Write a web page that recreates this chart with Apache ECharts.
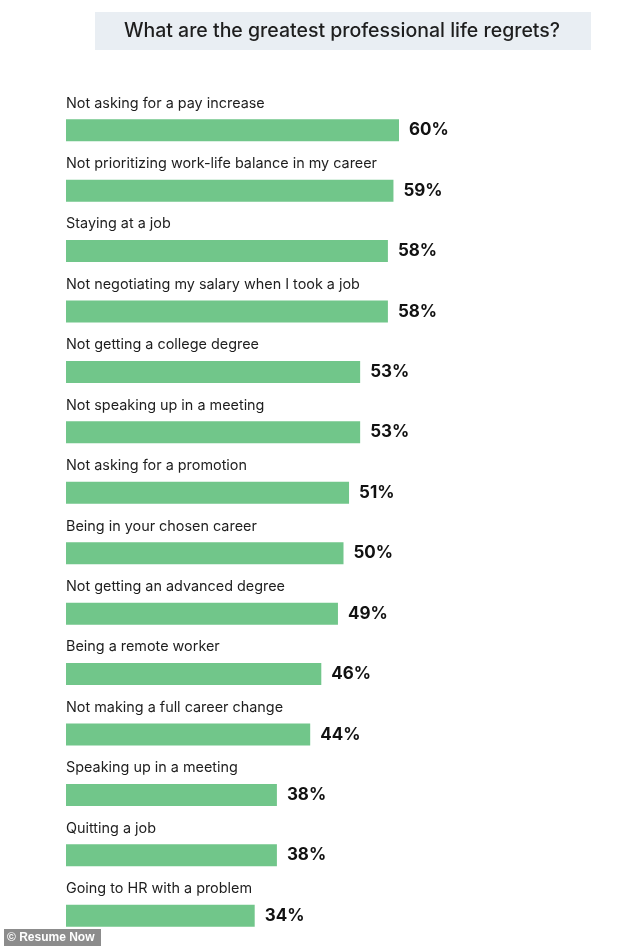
<!DOCTYPE html>
<html><head><meta charset="utf-8">
<script src="https://cdn.jsdelivr.net/npm/echarts@6/dist/echarts.min.js"></script>
<style>html,body{margin:0;padding:0;background:#fff}#c{width:634px;height:946px}</style>
</head><body><div id="c"></div>
<script>
const categories = [
  "Not asking for a pay increase",
  "Not prioritizing work-life balance in my career",
  "Staying at a job",
  "Not negotiating my salary when I took a job",
  "Not getting a college degree",
  "Not speaking up in a meeting",
  "Not asking for a promotion",
  "Being in your chosen career",
  "Not getting an advanced degree",
  "Being a remote worker",
  "Not making a full career change",
  "Speaking up in a meeting",
  "Quitting a job",
  "Going to HR with a problem"
];
const values = [60, 59, 58, 58, 53, 53, 51, 50, 49, 46, 44, 38, 38, 34];
const titleText = "What are the greatest professional life regrets?";
const creditText = "© Resume Now";

const chart = echarts.init(document.getElementById('c'), null, {renderer: 'canvas'});
const FONT = "Inter, 'Noto Sans', sans-serif";
chart.setOption({
  animation: false,
  textStyle: {fontFamily: FONT},
  graphic: [
    {type: 'rect', shape: {x: 95, y: 12, width: 496, height: 38}, style: {fill: '#e9eef3'}, z: 1},
    {type: 'text', x: 342, y: 31, style: {text: titleText, fill: '#1e1e1e', font: "500 19.5px " + FONT, textAlign: 'center', textVerticalAlign: 'middle'}, z: 2},
    {type: 'rect', shape: {x: 4, y: 929, width: 97, height: 17}, style: {fill: '#8c8c8c'}, z: 10},
    {type: 'text', x: 7, y: 938, style: {text: creditText, fill: '#ffffff', font: "bold 12px Arial, 'Liberation Sans', sans-serif", textVerticalAlign: 'middle'}, z: 11}
  ],
  grid: {left: 66, width: 555, top: 100, height: 846, containLabel: false},
  xAxis: {type: 'value', min: 0, max: 100, show: false},
  yAxis: {
    type: 'category', data: categories, inverse: true,
    axisLine: {show: false}, axisTick: {show: false}, splitLine: {show: false},
    axisLabel: {
      inside: true, margin: 0, color: '#1e1e1e', fontSize: 14.4, fontFamily: FONT,
      align: 'left', verticalAlign: 'bottom', padding: [0, 0, 20, 0]
    }
  },
  series: [{
    type: 'bar', data: values, barWidth: 22,
    itemStyle: {color: '#71c68a'},
    label: {show: true, position: 'right', distance: 10, formatter: '{c}%',
      color: '#111', fontSize: 17, fontWeight: 'bold', fontFamily: FONT}
  }]
});
</script></body></html>
